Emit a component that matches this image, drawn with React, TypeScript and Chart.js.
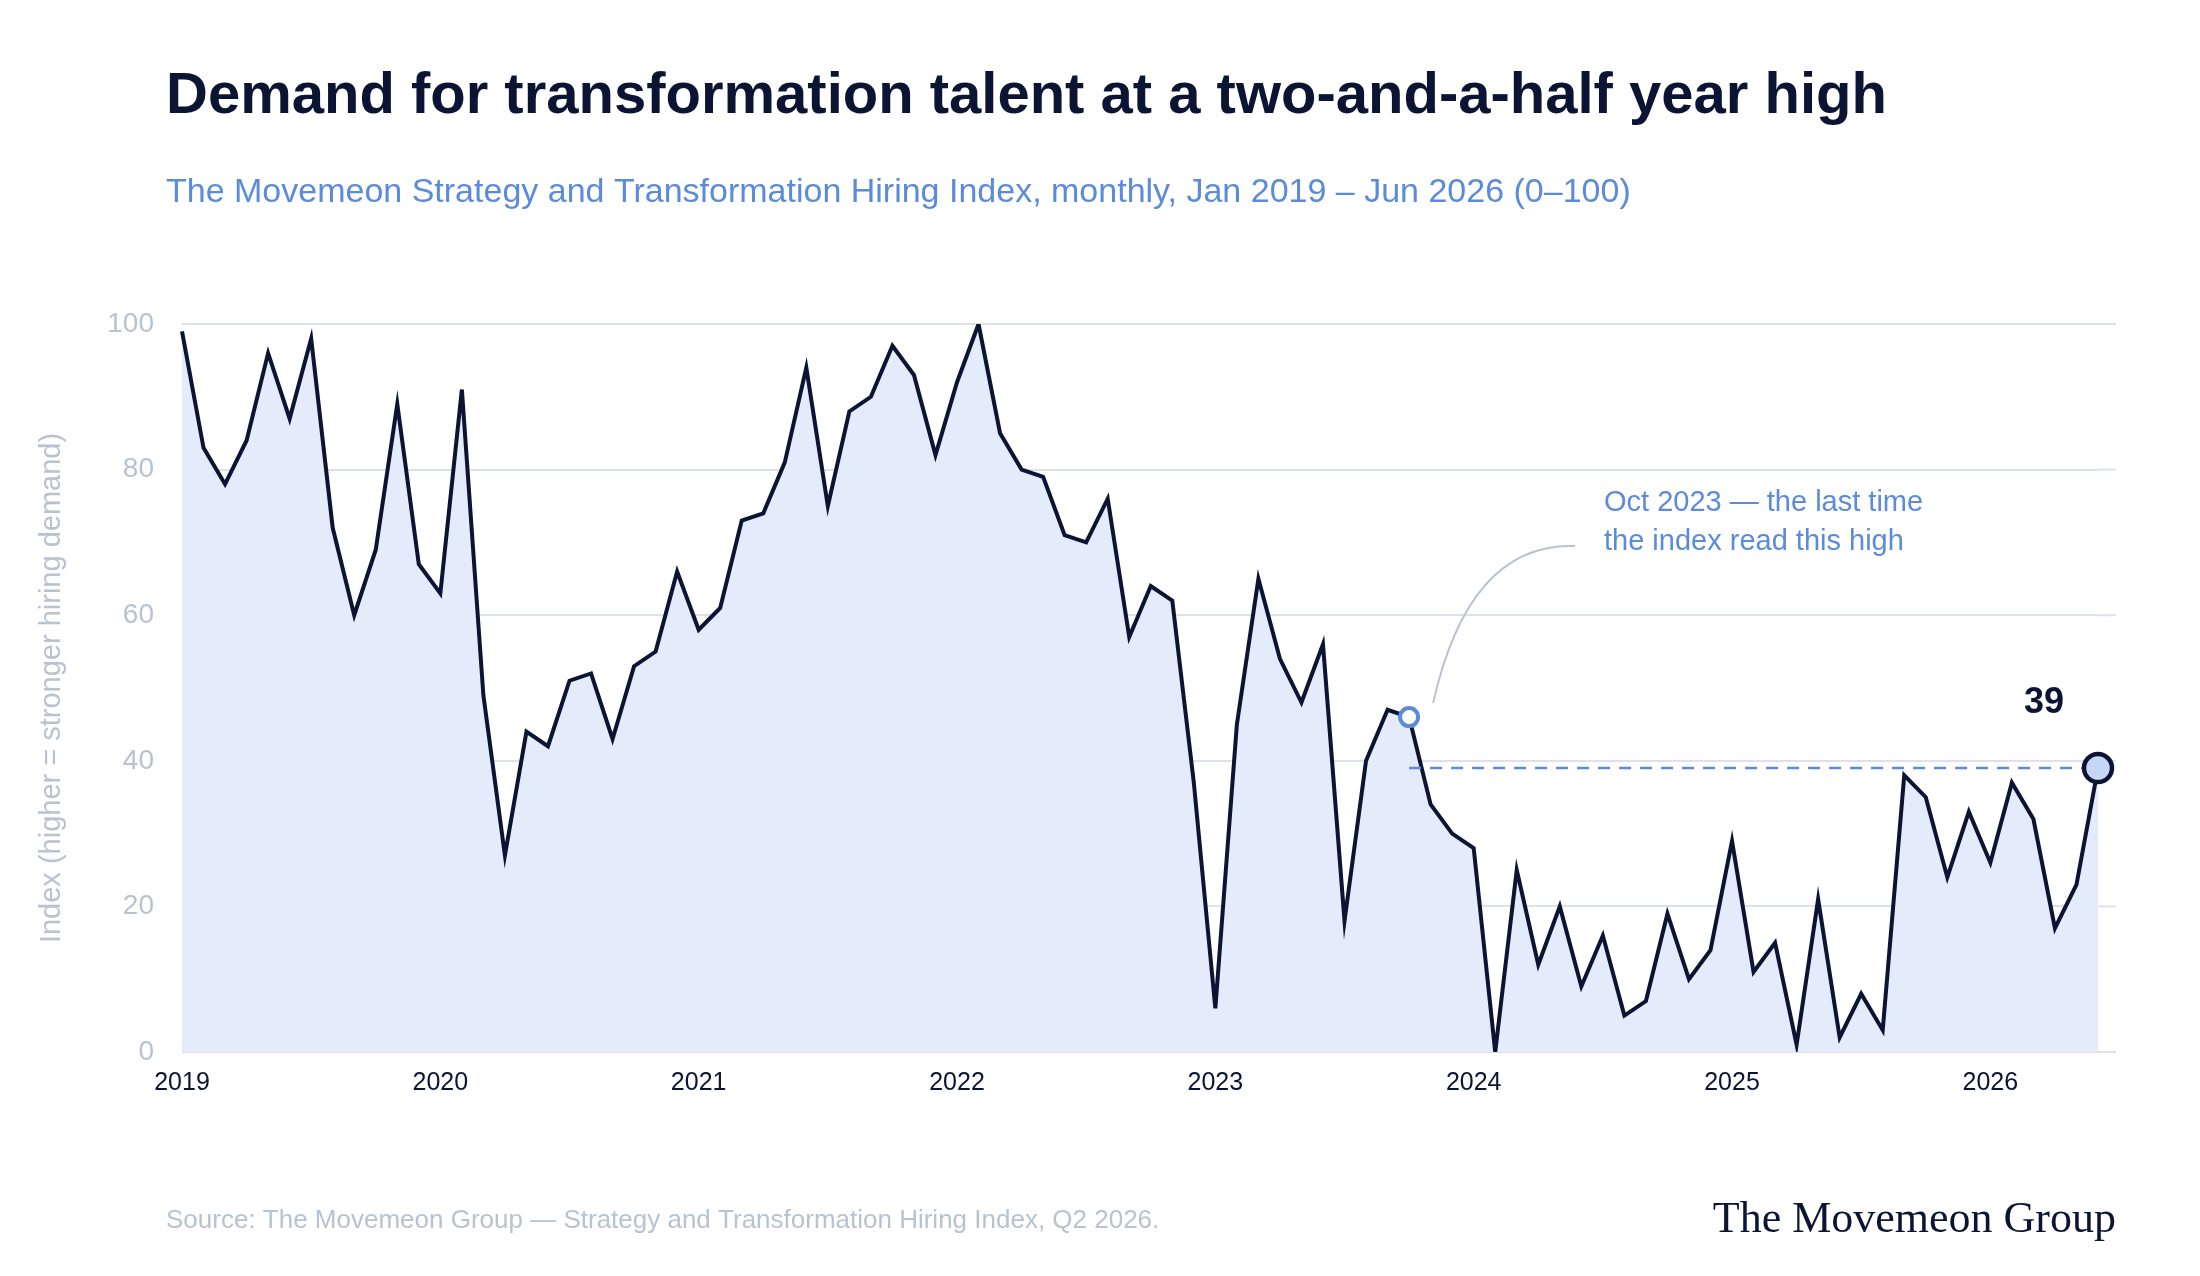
import React, { useEffect, useRef } from "react";
import { Chart, registerables } from "chart.js";
Chart.register(...registerables);

const years = ["2019", "2020", "2021", "2022", "2023", "2024", "2025", "2026"];
const values2019 = [99, 83, 78, 84, 96, 87, 98, 72, 60, 69, 89, 67];
const values2020 = [63, 91, 49, 27, 44, 42, 51, 52, 43, 53, 55, 66];
const values2021 = [58, 61, 73, 74, 81, 94, 75, 88, 90, 97, 93, 82];
const values2022 = [92, 100, 85, 80, 79, 71, 70, 76, 57, 64, 62, 37];
const values2023 = [6, 45, 65, 54, 48, 56, 18, 40, 47, 46, 34, 30];
const values2024 = [28, 0, 25, 12, 20, 9, 16, 5, 7, 19, 10, 14];
const values2025 = [29, 11, 15, 1, 21, 2, 8, 3, 38, 35, 24, 33];
const values2026 = [26, 37, 32, 17, 23, 39];
const yTicks = [0, 20, 40, 60, 80, 100];

const values = [...values2019, ...values2020, ...values2021, ...values2022, ...values2023, ...values2024, ...values2025, ...values2026];
const labels = values.map((_, i) => (i % 12 === 0 ? years[i / 12] : ""));
const highlightIndex = 57; // Oct 2023
const lastIndex = values.length - 1;

const NAVY = "#0b1533";
const BLUE = "#5b8bd9";
const GREY = "#b8c2d0";
const GRID = "#dde1e8";
const GRID_EXT = 18;

export default function App() {
  const ref = useRef<HTMLCanvasElement>(null);
  useEffect(() => {
    const overlay = {
      id: "overlay",
      beforeDatasetsDraw(chart: any) {
        const { ctx, chartArea, scales } = chart;
        ctx.save();
        ctx.strokeStyle = GRID; ctx.lineWidth = 2;
        yTicks.forEach((v) => {
          const py = scales.y.getPixelForValue(v);
          ctx.beginPath(); ctx.moveTo(chartArea.right, py); ctx.lineTo(chartArea.right + GRID_EXT, py); ctx.stroke();
        });
        ctx.restore();
      },
      afterDatasetsDraw(chart: any) {
        const { ctx, scales } = chart;
        const x = scales.x, y = scales.y;
        const hx = x.getPixelForValue(highlightIndex), hy = y.getPixelForValue(values[highlightIndex]);
        const lx = x.getPixelForValue(lastIndex), ly = y.getPixelForValue(values[lastIndex]);
        ctx.save();
        ctx.strokeStyle = BLUE; ctx.lineWidth = 2.5; ctx.setLineDash([12, 9]);
        ctx.beginPath(); ctx.moveTo(hx, ly); ctx.lineTo(lx, ly); ctx.stroke();
        ctx.setLineDash([]);
        ctx.strokeStyle = GREY; ctx.lineWidth = 2;
        ctx.beginPath(); ctx.moveTo(hx + 24, hy - 14);
        ctx.quadraticCurveTo(hx + 60, y.getPixelForValue(70), hx + 166, y.getPixelForValue(69.5));
        ctx.stroke();
        ctx.fillStyle = "#ffffff"; ctx.strokeStyle = BLUE; ctx.lineWidth = 4;
        ctx.beginPath(); ctx.arc(hx, hy, 9, 0, Math.PI * 2); ctx.fill(); ctx.stroke();
        ctx.fillStyle = "#c5d6f7"; ctx.strokeStyle = NAVY; ctx.lineWidth = 4.5;
        ctx.beginPath(); ctx.arc(lx, ly, 14, 0, Math.PI * 2); ctx.fill(); ctx.stroke();
        ctx.fillStyle = NAVY; ctx.font = "bold 36px 'Liberation Sans'"; ctx.textAlign = "center"; ctx.textBaseline = "alphabetic";
        ctx.fillText(String(values[lastIndex]), lx - 54, y.getPixelForValue(46.5));
        ctx.fillStyle = BLUE; ctx.font = "29px 'Liberation Sans'"; ctx.textAlign = "left";
        ctx.fillText("Oct 2023 \u2014 the last time", 1604, 511);
        ctx.fillText("the index read this high", 1604, 550);
        ctx.fillStyle = NAVY; ctx.font = "bold 58px 'Liberation Sans'";
        ctx.fillText("Demand for transformation talent at a two-and-a-half year high", 166, 113);
        ctx.fillStyle = BLUE; ctx.font = "34px 'Liberation Sans'";
        ctx.fillText("The Movemeon Strategy and Transformation Hiring Index, monthly, Jan 2019 \u2013 Jun 2026 (0\u2013100)", 166, 202);
        ctx.fillStyle = GREY; ctx.font = "26px 'Liberation Sans'";
        ctx.fillText("Source: The Movemeon Group \u2014 Strategy and Transformation Hiring Index, Q2 2026.", 166, 1228);
        ctx.fillStyle = NAVY; ctx.font = "44px 'Liberation Serif'"; ctx.textAlign = "right";
        ctx.fillText("The Movemeon Group", 2116, 1232);
        ctx.translate(52, (y.top + y.bottom) / 2);
        ctx.rotate(-Math.PI / 2);
        ctx.fillStyle = GREY; ctx.font = "29px 'Liberation Sans'"; ctx.textAlign = "center"; ctx.textBaseline = "middle";
        ctx.fillText("Index (higher = stronger hiring demand)", 0, 0);
        ctx.restore();
      },
    };
    const chart = new Chart(ref.current!, {
      type: "line",
      data: {
        labels,
        datasets: [{
          data: values,
          borderColor: NAVY,
          borderWidth: 4,
          backgroundColor: "#e4ecfb",
          fill: "origin",
          pointRadius: 0,
          tension: 0,
        }],
      },
      options: {
        animation: false,
        responsive: false,
        layout: { padding: { top: 324, right: 84 + GRID_EXT, left: 0, bottom: 0 } },
        plugins: { legend: { display: false }, tooltip: { enabled: false } },
        scales: {
          x: {
            offset: false,
            grid: { display: false },
            border: { display: false },
            afterFit: (s: any) => { s.height = 224; },
            ticks: {
              autoSkip: false, maxRotation: 0, padding: 8,
              color: NAVY, font: { family: "Liberation Sans", size: 25 },
            },
          },
          y: {
            min: 0, max: 100,
            afterFit: (s: any) => { s.width = 182; },
            afterBuildTicks: (s: any) => { s.ticks = yTicks.map((v) => ({ value: v })); },
            border: { display: false },
            grid: { color: GRID, lineWidth: 2, drawTicks: false },
            ticks: { padding: 28, color: GREY, font: { family: "Liberation Sans", size: 28 } },
          },
        },
      },
      plugins: [overlay],
    });
    return () => chart.destroy();
  }, []);
  return (
    <div style={{ position: "fixed", left: 0, top: 0, width: 2200, height: 1276, background: "#fff" }}>
      <canvas ref={ref} width={2200} height={1276} style={{ width: 2200, height: 1276 }} />
    </div>
  );
}
